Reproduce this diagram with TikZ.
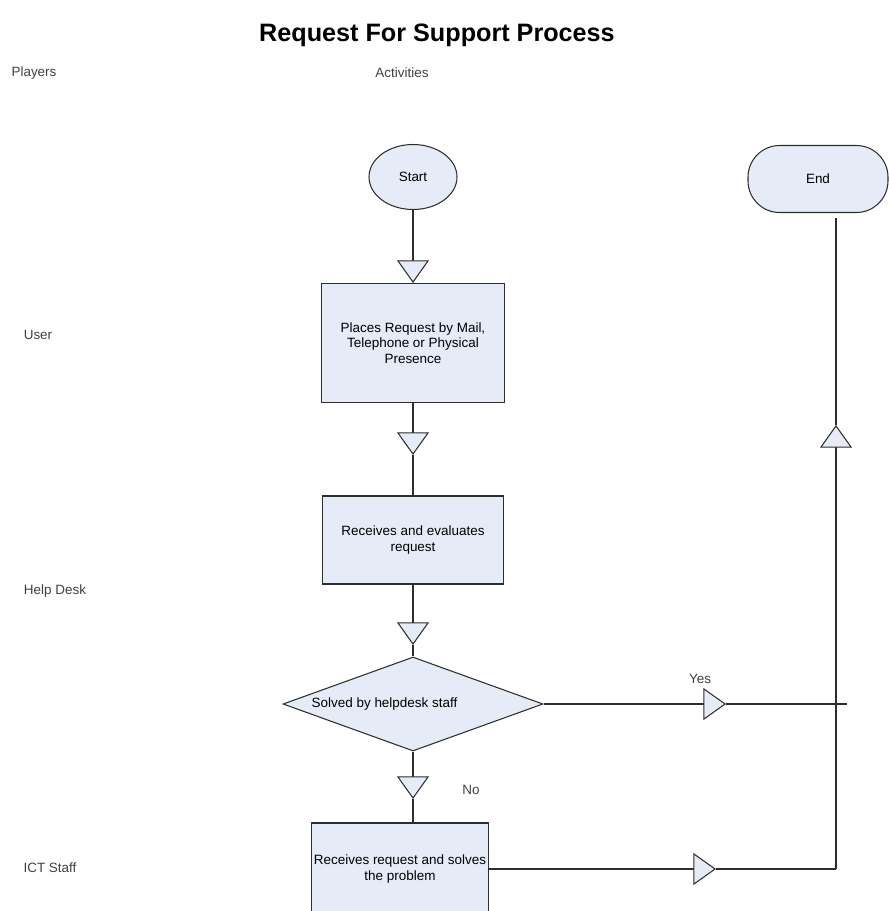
\documentclass[tikz,border=0pt]{standalone}
\usepackage{fontspec}
\setmainfont{Liberation Sans}
\usepackage{tikz}
\usetikzlibrary{shapes.geometric,arrows.meta}
\definecolor{boxfill}{RGB}{230,236,247}
\definecolor{inkline}{RGB}{45,45,45}
\tikzset{
% Node styles for the flow chart: boxes, start and end, decision
process box/.style={rectangle,draw=inkline,line width=0.9pt,fill=boxfill,align=center,inner sep=2pt},
terminal node/.style={draw=inkline,line width=0.9pt,fill=boxfill},
decision node/.style={diamond,draw=inkline,line width=0.9pt,fill=boxfill,inner sep=0pt},
lane label/.style={text=black!75},
% Connectors, with and without the open triangle
link/.style={draw=inkline,line width=0.9pt},
flow/.style={link,-{Triangle[width=0.96cm,length=0.68cm,fill=boxfill]}}
}
\begin{document}
\begin{tikzpicture}[x=0.03cm,y=-0.03cm,font=\fontsize{11.5}{13}\selectfont]
      \useasboundingbox (0,0) rectangle (889,911);
      % Title and column heads
      \node(title) at (437,35) {\fontsize{21.5}{25}\selectfont\bfseries Request For Support Process};
      \node(players)[lane label] at (34,73) {Players};
      \node(activities)[lane label] at (402,73) {Activities};
      % Players
      \node(user)[lane label] at (38,335) {User};
      \node(helpdesk)[lane label] at (55,591) {Help Desk};
      \node(ictstaff)[lane label] at (50,868) {ICT Staff};
      % Activities
      \node(start)[terminal node,ellipse,minimum width=2.64cm,minimum height=1.95cm] at (413,177) {Start};
      \node(finish)[terminal node,rounded corners=0.95cm,minimum width=4.2cm,minimum height=2.01cm] at (818,179) {End};
      \node(places)[process box,minimum width=5.49cm,minimum height=3.57cm] at (413,343)
        {Places Request by Mail,\\Telephone or Physical\\Presence};
      \node(evaluates)[process box,minimum width=5.43cm,minimum height=2.64cm] at (413,540)
        {Receives and evaluates\\request};
      \node(solved)[decision node,minimum width=7.8cm,minimum height=2.82cm,
        label={[anchor=west,xshift=0.75cm]west:Solved by helpdesk staff}] at (413,704) {};
      \node(solves)[process box,minimum width=5.04cm,minimum height=2.76cm] at (400,869)
        {Receives request and solves\\the problem};
      % Points where the triangles sit
      \coordinate (tipa) at (413,455);
      \coordinate (tipb) at (413,645);
      \coordinate (tipc) at (413,799);
      \coordinate (tipyes) at (726,704);
      \coordinate (yesend) at (847,704);
      \coordinate (tipdone) at (716,869);
      \coordinate (corner) at (836,869);
      \coordinate (tipup) at (836,425);
      \coordinate (endfoot) at (836,218);
      % Connectors
      \draw[flow] (start) -- (places);
      \draw[flow] (places) -- (tipa);
      \draw[link] (tipa) -- (evaluates);
      \draw[flow] (evaluates) -- (tipb);
      \draw[link] (tipb) -- (solved);
      \draw[flow] (solved) -- (tipc);
      \draw[link] (tipc) -- (tipc |- solves.north);
      \draw[flow] (solved.east) -- (tipyes);
      \draw[link] (tipyes) -- (yesend);
      \draw[flow] (solves.east |- tipdone) -- (tipdone);
      \draw[link] (tipdone) -- (corner);
      \draw[flow] (corner) -- (tipup);
      \draw[link] (tipup) -- (endfoot);
      % Labels of the two branches
      \node(yeslabel)[lane label] at (700,679) {Yes};
      \node(nolabel)[lane label] at (471,790) {No};
\end{tikzpicture}
\end{document}
